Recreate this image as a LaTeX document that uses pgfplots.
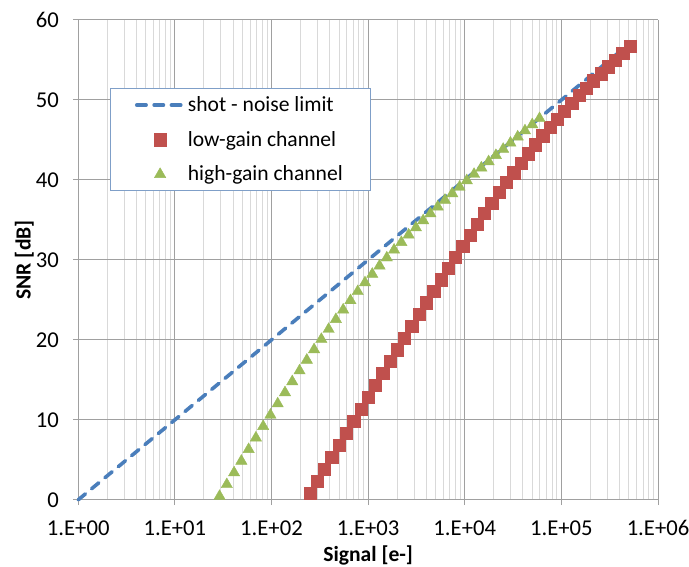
\documentclass[border=0pt]{standalone}
\usepackage{pgfplots}
\pgfplotsset{compat=1.18}
\usepackage{fontspec}
\setmainfont{Carlito}
\definecolor{cblue}{HTML}{4A7EBB}
\definecolor{cred}{HTML}{C0504D}
\definecolor{cgreen}{HTML}{9BBB59}
\definecolor{majgrid}{HTML}{A0A0A0}
\definecolor{mingrid}{HTML}{D9D9D9}
\definecolor{legborder}{HTML}{7F9FC8}

\pgfplotstableread{
S SNR
1 0
10 10
100 20
1000 30
10000 40
100000 50
512000 57.09
}\shotdata

\pgfplotstableread{
S SNR
250.00 0.862
297.30 2.363
353.55 3.863
420.45 5.363
500.00 6.861
594.60 8.359
707.11 9.854
840.90 11.348
1000.0 12.840
1189.2 14.329
1414.2 15.816
1681.8 17.299
2000.0 18.778
2378.4 20.252
2828.4 21.721
3363.6 23.183
4000.0 24.638
4756.8 26.083
5656.9 27.519
6727.2 28.943
8000.0 30.353
9513.7 31.749
11314 33.126
13454 34.485
16000 35.822
19027 37.135
22627 38.422
26909 39.682
32000 40.912
38055 42.112
45255 43.279
53817 44.414
64000 45.517
76109 46.587
90510 47.626
107635 48.635
128000 49.616
152219 50.570
181019 51.499
215270 52.407
256000 53.294
304437 54.162
362039 55.015
430539 55.854
512000 56.680
}\lowdata

\pgfplotstableread{
S SNR
29.000 0.446
34.487 1.919
41.012 3.388
48.772 4.849
58.000 6.303
68.974 7.748
82.024 9.183
97.544 10.606
116.00 12.016
137.95 13.409
164.05 14.786
195.09 16.143
232.00 17.478
275.90 18.789
328.10 20.075
390.18 21.332
464.00 22.560
551.80 23.757
656.20 24.922
780.35 26.055
928.00 27.155
1103.6 28.223
1312.4 29.260
1560.7 30.267
1856.0 31.245
2207.2 32.197
2624.8 33.125
3121.4 34.031
3712.0 34.916
4414.4 35.784
5249.6 36.636
6242.8 37.473
7424.0 38.299
8828.8 39.114
10499 39.920
12486 40.717
14848 41.508
17658 42.293
20998 43.074
24971 43.849
29696 44.622
35315 45.391
41997 46.157
49943 46.922
59392 47.684
}\highdata

\begin{document}
\begin{tikzpicture}
\begin{axis}[
  xmode=log, log basis x=10,
  scale only axis,
  width=435pt, height=360pt,
  xmin=1, xmax=1000000, ymin=0, ymax=60,
  xtick={1,10,100,1000,10000,100000,1000000},
  xticklabels={1.E+00,1.E+01,1.E+02,1.E+03,1.E+04,1.E+05,1.E+06},
  minor xtick={2,3,4,5,6,7,8,9,20,30,40,50,60,70,80,90,200,300,400,500,600,700,800,900,2000,3000,4000,5000,6000,7000,8000,9000,20000,30000,40000,50000,60000,70000,80000,90000,200000,300000,400000,500000,600000,700000,800000,900000},
  ytick={0,10,20,30,40,50,60},
  /pgf/number format/assume math mode=true,
  axis lines=left,
  axis line style={-, color=majgrid, line width=0.75pt},
  xmajorgrids=true, ymajorgrids=true, xminorgrids=true,
  major grid style={majgrid, line width=0.75pt},
  minor grid style={mingrid, line width=0.75pt},
  tick align=outside,
  major tick length=4pt,
  minor tick length=0pt,
  tick style={majgrid, line width=0.75pt},
  every tick label/.append style={font=\fontsize{17}{20}\selectfont, text=black},
  xticklabel style={yshift=-8pt},
  yticklabel style={xshift=-7pt},
  xlabel={\textbf{Signal [e-]}},
  ylabel={\textbf{SNR [dB]}},
  label style={font=\fontsize{16.2}{19}\selectfont},
  xlabel style={at={(rel axis cs:0.5,0)}, anchor=center, yshift=-41.5pt},
  ylabel style={at={(rel axis cs:0,0.5)}, anchor=center, yshift=40.5pt},
  legend image code/.code={\draw[mark repeat=2,mark phase=2,#1] plot coordinates {(0pt,0pt) (17.5pt,0pt) (35pt,0pt)};},
  legend style={at={(rel axis cs:0.0545,0.858)}, anchor=north west,
    draw=legborder, line width=0.75pt, fill=white,
    font=\fontsize{16.2}{19}\selectfont,
    inner xsep=18.5pt, inner ysep=3pt, row sep=7.2pt,
    nodes={inner ysep=3pt}},
  legend cell align=left,
  clip=false,
]
\addplot[cblue, line width=2.7pt, line cap=round, dash pattern=on 7pt off 6pt] table[x=S,y=SNR] {\shotdata};
\addlegendentry{shot - noise limit}
\addplot[only marks, mark=square*, mark size=4.6pt, color=cred, mark options={fill=cred, draw=cred, line width=0.3pt}] table[x=S,y=SNR] {\lowdata};
\addlegendentry{low-gain channel}
\addplot[only marks, mark=triangle*, mark size=4.9pt, color=cgreen, mark options={fill=cgreen, draw=cgreen, line width=0.3pt}] table[x=S,y=SNR] {\highdata};
\addlegendentry{high-gain channel}
\coordinate (bl) at (rel axis cs:0,0);
\coordinate (tr) at (rel axis cs:1,1);
\end{axis}
\pgfresetboundingbox
\path[use as bounding box] ([shift={(-58.7pt,-50.25pt)}]bl) rectangle ([shift={(23.25pt,15pt)}]tr);
\end{tikzpicture}
\end{document}
